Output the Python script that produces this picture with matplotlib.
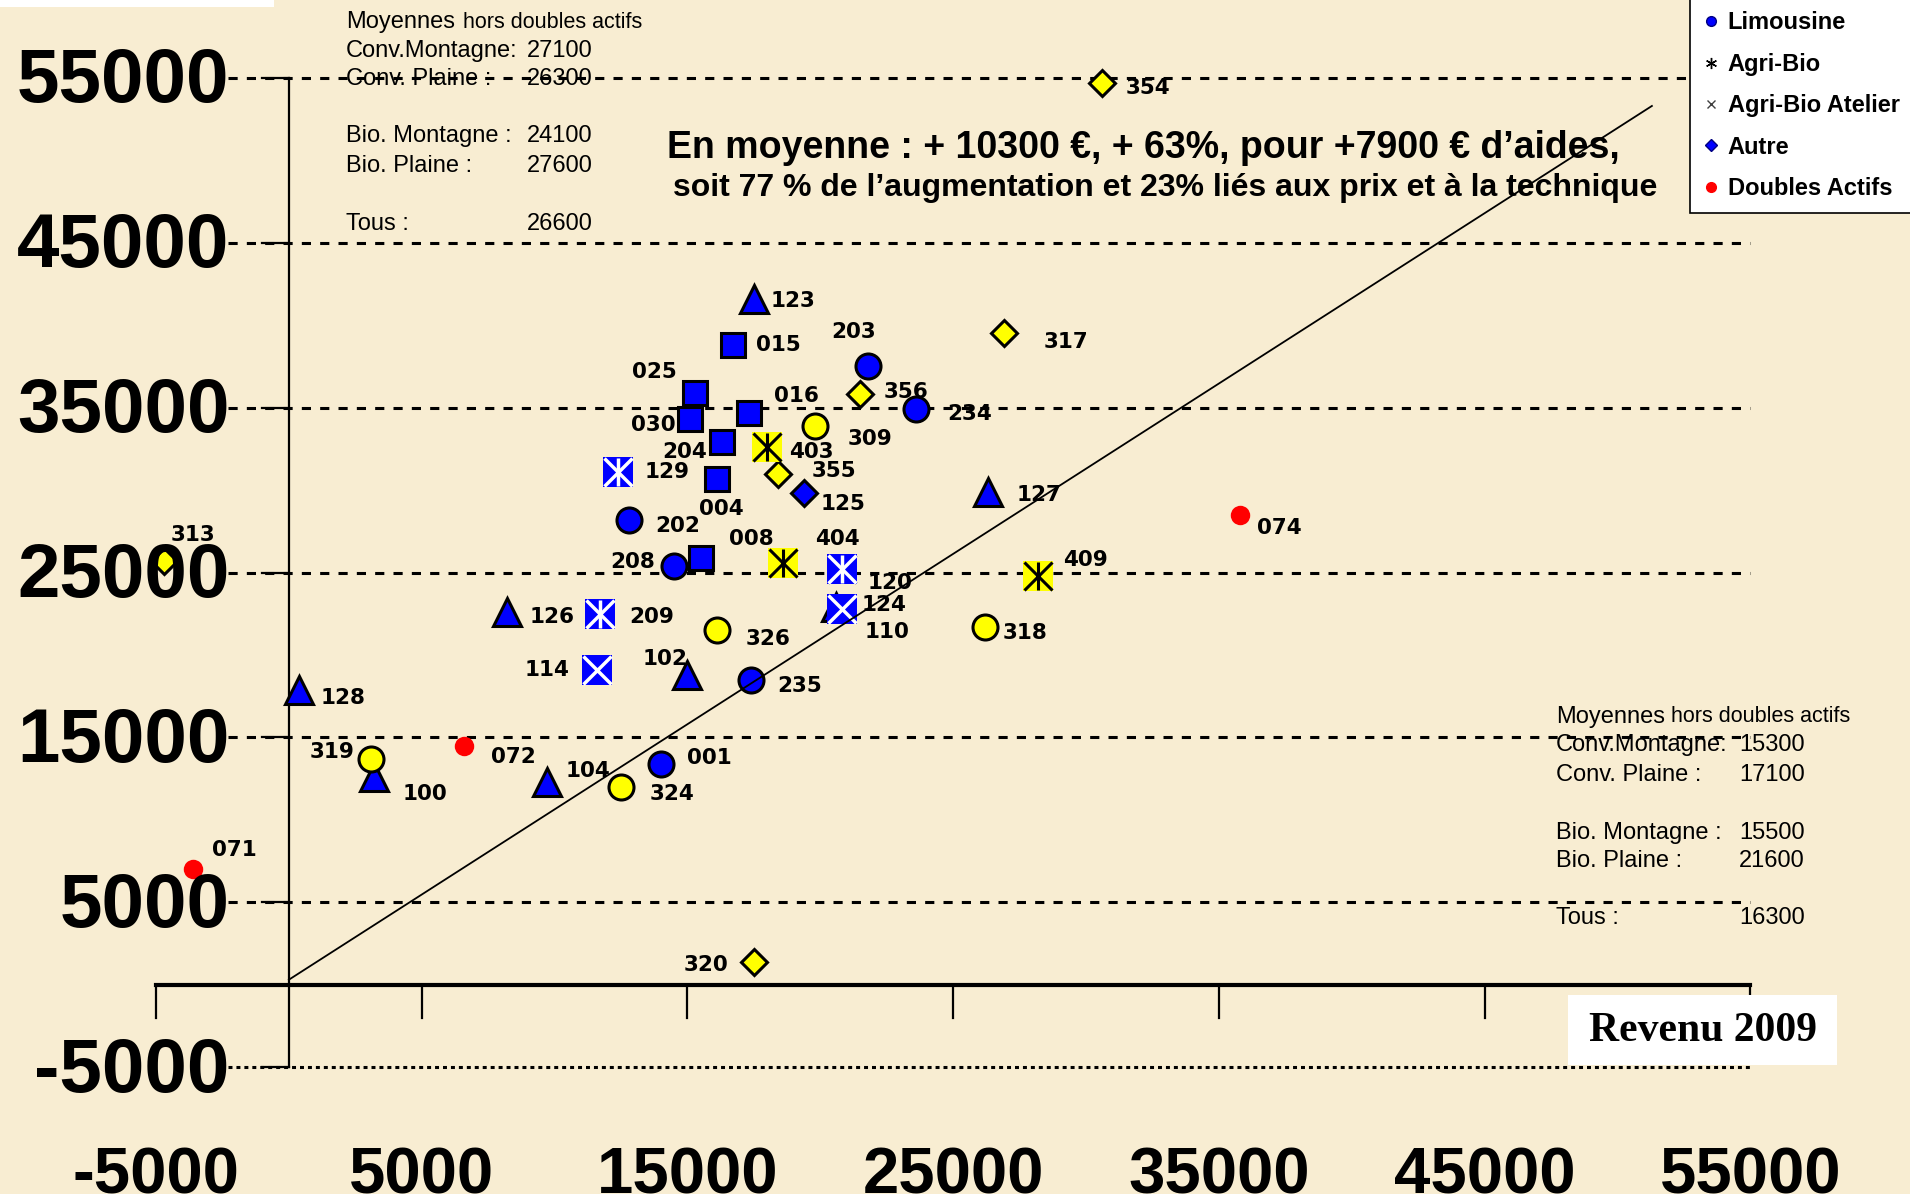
import matplotlib
matplotlib.use('Agg')
from matplotlib import pyplot as plt
from matplotlib.lines import Line2D
from matplotlib.patches import Rectangle

plt.rcParams['font.family'] = ['Liberation Sans', 'DejaVu Sans']

W, H = 1910, 1194

# one entry per farm: code, revenue 2009 (x), revenue with the new aides (y)
codes = ['123', '127', '126', '102', '128', '100', '104', '110',
         '015', '025', '030', '016', '204', '004', '008',
         '125',
         '354', '317', '356', '355', '320', '313',
         '203', '234', '202', '208', '235', '001',
         '309', '326', '318', '319', '324',
         '403', '', '404', '409',
         '129', '209', '114', '120', '124',
         '074', '072', '071']
rev_2009 = [17500, 26300, 8200, 15000, 400, 3200, 9700, 20600,
            16700, 15300, 15100, 17300, 16300, 16100, 15500,
            19400,
            30600, 26900, 21500, 18400, 17500, -4700,
            21800, 23600, 12800, 14500, 17400, 14000,
            19800, 16100, 26200, 3100, 12500,
            18000, 18600, 20800, 28200,
            12400, 11700, 11600, 20800, 20800,
            35800, 6600, -3600]
rev_new = [41600, 29900, 22600, 18800, 17900, 12600, 12300, 22900,
           38800, 35900, 34300, 34700, 32900, 30700, 25900,
           29800,
           54700, 39500, 35800, 31000, 1400, 25700,
           37500, 34900, 28200, 25400, 18500, 13400,
           33900, 21500, 21700, 13700, 12000,
           32600, 25600, 25200, 24800,
           31100, 22500, 19100, 25200, 22800,
           28500, 14500, 7000]
groups = ['tri'] * 8 + ['sq'] * 7 + ['dia_blue'] + ['dia_yel'] * 6 + \
         ['circ_blue'] * 6 + ['circ_yel'] * 5 + ['agribio'] * 4 + \
         ['atelier'] * 5 + ['double'] * 3
atelier_star = ['129', '209', '120']

# label offsets (reference pixels) from each marker
label_dx = [32, 42, 37, -18, 36, 42, 34, 42,
            38, -34, -30, 39, -31, 4, 42,
            32,
            38, 51, 38, 46, -39, 24,
            -12, 44, 40, -34, 40, 40,
            45, 42, 33, -32, 42,
            36, 0, -3, 39,
            40, 43, -41, 40, 35,
            32, 40, 34]
label_dy = [2, 3, 4, -13, 7, 14, -9, 20,
            0, -17, 5, -14, 8, 25, -15,
            9,
            4, 7, -2, -2, 3, -21,
            -28, 4, 5, -3, 5, -5,
            11, 7, 5, -6, 6,
            4, 0, -25, -13,
            0, 3, 0, 11, -3,
            11, 9, -16]

diag_x = [0, 51300]
diag_y = [300, 53300]

y_ticks = [55000, 45000, 35000, 25000, 15000, 5000, -5000]
x_ticks = [-5000, 5000, 15000, 25000, 35000, 45000, 55000]

mean_names = ['Conv.Montagne:', 'Conv. Plaine :', 'Bio. Montagne :', 'Bio. Plaine :', 'Tous :']
means_after = [27100, 26300, 24100, 27600, 26600]
means_2009 = [15300, 17100, 15500, 21600, 16300]

legend_labels = ['Limousine', 'Agri-Bio', 'Agri-Bio Atelier', 'Autre', 'Doubles Actifs']

BLUE, YEL, RED = '#0000FF', '#FFFF00', '#FF0000'
styles = {
    'tri': dict(marker='^', ms=20, mfc=BLUE, mec='black', mew=2.2),
    'sq': dict(marker='s', ms=17, mfc=BLUE, mec='black', mew=2.2),
    'dia_blue': dict(marker='D', ms=13.5, mfc=BLUE, mec='black', mew=2.2),
    'dia_yel': dict(marker='D', ms=13.5, mfc=YEL, mec='black', mew=2.2),
    'circ_blue': dict(marker='o', ms=18, mfc=BLUE, mec='black', mew=2.2),
    'circ_yel': dict(marker='o', ms=18, mfc=YEL, mec='black', mew=2.2),
    'agribio': dict(marker='s', ms=22, mfc=YEL, mec='none', mew=0),
    'atelier': dict(marker='s', ms=22, mfc=BLUE, mec='none', mew=0),
    'double': dict(marker='o', ms=14, mfc=RED, mec='none', mew=0),
}

fig = plt.figure(figsize=(W / 100, H / 100), dpi=100)
fig.patch.set_facecolor('#F8EDD2')
ax = fig.add_axes([0, 0, 1, 1])
ax.set_xlim(-10871, 61014)
ax.set_ylim(-12697, 59727)
ax.axis('off')

def fx(p):
    return p / W

def fy(p):
    return 1 - p / H

# dashed levels and axes
for yt in y_ticks:
    ls = (0, (1.3, 1.3)) if yt == -5000 else (0, (3, 3))
    ax.plot([-2300, 55000], [yt, yt], color='black', lw=2.2, linestyle=ls, zorder=2)
    ax.plot([-1000, 0], [yt, yt], color='black', lw=1.6, zorder=2)
    ax.text(-2240, yt - 300, str(yt), ha='right', va='center', fontsize=55,
            fontweight='bold', zorder=6)
ax.plot([0, 0], [-5000, 55000], color='black', lw=1.6, zorder=2)
ax.plot([-5000, 55000], [0, 0], color='black', lw=3, zorder=2)
for xt in x_ticks:
    ax.plot([xt, xt], [0, -2000], color='black', lw=1.6, zorder=2)
    ax.text(xt, -12640, str(xt), ha='center', va='baseline', fontsize=47,
            fontweight='bold', zorder=6)

ax.plot(diag_x, diag_y, color='black', lw=1.3, zorder=3.5)

# points
for code, x, y, g, dx, dy in zip(codes, rev_2009, rev_new, groups, label_dx, label_dy):
    ax.plot(x, y, linestyle='none', zorder=3, **styles[g])
    if g == 'atelier':
        ax.plot(x, y, marker='x', ms=20, mec='white', mew=2.5, ls='none', zorder=3)
        if code in atelier_star:
            ax.plot(x, y, marker='|', ms=20, mec='white', mew=2.5, ls='none', zorder=3)
    if g == 'agribio':
        ax.plot(x, y, marker='x', ms=20, mec='black', mew=2.2, ls='none', zorder=3)
        ax.plot(x, y, marker='|', ms=20, mec='black', mew=2.2, ls='none', zorder=3)
    if code:
        ax.annotate(code, (x, y), xytext=(dx * 0.877, -dy * 0.877),
                    textcoords='offset points', ha='center', va='center',
                    fontsize=15.5, fontweight='bold', family='DejaVu Sans', zorder=4)

# mean blocks
def mean_block(x0, xnum, xhors, rows_y, head_y, values):
    fig.text(fx(x0), fy(head_y), 'Moyennes', fontsize=17, va='center', zorder=1)
    fig.text(fx(xhors), fy(head_y), 'hors doubles actifs', fontsize=15.5, va='center', zorder=1)
    for name, v, yy in zip(mean_names, values, rows_y):
        fig.text(fx(x0), fy(yy), name, fontsize=17, va='center', zorder=1)
        fig.text(fx(xnum), fy(yy), str(v), fontsize=17, va='center', zorder=1)

mean_block(346, 527, 463, [51, 79, 136, 166, 224], 22, means_after)
mean_block(1556, 1739, 1671, [745, 775, 833, 861, 918], 717, means_2009)

fig.text(fx(1143), fy(148), 'En moyenne : + 10300 €, + 63%, pour +7900 € d’aides,',
         ha='center', va='center', fontsize=27, fontweight='bold')
fig.text(fx(1165), fy(188), 'soit 77 % de l’augmentation et 23% liés aux prix et à la technique',
         ha='center', va='center', fontsize=23, fontweight='bold')

# white patches
fig.patches.append(Rectangle((0, fy(7)), fx(274), 7 / H, transform=fig.transFigure,
                             facecolor='white', edgecolor='none'))
fig.patches.append(Rectangle((fx(1568), fy(1065)), 269 / W, 70 / H, transform=fig.transFigure,
                             facecolor='white', edgecolor='none'))
fig.text(fx(1703), fy(1031), 'Revenu 2009', ha='center', va='center', fontsize=30,
         fontweight='bold', family='Liberation Serif')

handles = [
    Line2D([], [], ls='none', marker='o', ms=7, mfc=BLUE, mec='#000080'),
    Line2D([], [], ls='none', marker=(6, 2, 0), ms=8, color='black', mew=1),
    Line2D([], [], ls='none', marker='x', ms=6, color='#404040', mew=1),
    Line2D([], [], ls='none', marker='D', ms=6, mfc=BLUE, mec='#000080'),
    Line2D([], [], ls='none', marker='o', ms=7, mfc=RED, mec=RED),
]
leg = fig.legend(handles, legend_labels, loc='lower left', bbox_to_anchor=(fx(1690), fy(213)),
                 prop=dict(family='Liberation Sans', weight='bold', size=17),
                 frameon=True, fancybox=False, edgecolor='black', framealpha=1,
                 borderpad=0.55, labelspacing=0.78, handlelength=0.7,
                 handletextpad=0.35, borderaxespad=0)
leg.get_frame().set_linewidth(1.2)

fig.savefig('out.png', dpi=100, facecolor=fig.get_facecolor())
